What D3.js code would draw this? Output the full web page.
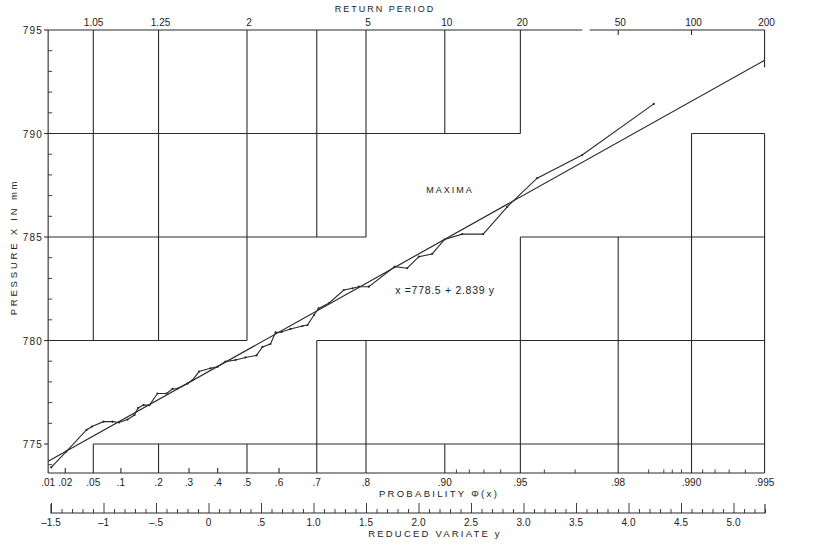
<!DOCTYPE html>
<html><head><meta charset="utf-8">
<script src="https://cdn.jsdelivr.net/npm/d3@7"></script>
<style>
html,body{margin:0;padding:0;background:#fff;}
svg text{font-family:"Liberation Sans","DejaVu Sans",sans-serif;fill:#222;}
</style></head>
<body><svg id="c" width="819" height="551"></svg>
<script>
// ---------- data ----------
const pressureTicks = [775, 780, 785, 790, 795];
const pressureMinor = [774,776,777,778,779,781,782,783,784,786,787,788,789,791,792,793,794];
const probValues = [0.01,0.02,0.05,0.1,0.2,0.3,0.4,0.5,0.6,0.7,0.8,0.90,0.95,0.98,0.990,0.995];
const probLabels = [".01",".02",".05",".1",".2",".3",".4",".5",".6",".7",".8",".90",".95",".98",".990",".995"];
const probMinor = [0.91,0.92,0.93,0.94,0.96,0.97,0.985,0.987,0.988,0.989,0.991,0.992,0.993,0.994];
const returnPeriods = [1.05, 1.25, 2, 5, 10, 20, 50, 100, 200];
const returnLabels = ["1.05","1.25","2","5","10","20","50","100","200"];
const variateTicks = [-1.5,-1,-0.5,0,0.5,1.0,1.5,2.0,2.5,3.0,3.5,4.0,4.5,5.0];
const variateLabels = ["\u20131.5","\u20131","\u2013.5","0",".5","1.0","1.5","2.0","2.5","3.0","3.5","4.0","4.5","5.0"];
const fitIntercept = 778.5, fitSlope = 2.839;
// observed maxima: reduced variate y and pressure x (mm)
const obsY = [-1.498,-1.355,-1.162,-1.110,-1.000,-0.914,-0.852,-0.771,-0.705,-0.671,-0.619,-0.562,-0.486,-0.400,-0.343,-0.295,-0.200,-0.152,-0.090,0.019,0.086,0.162,0.257,0.352,0.457,0.514,0.590,0.638,0.695,0.781,0.895,0.943,1.005,1.048,1.146,1.289,1.371,1.431,1.527,1.774,1.892,2.003,2.130,2.248,2.416,2.616,2.845,3.130,3.559,4.241];
const obsX = [773.87,774.63,775.68,775.84,776.08,776.08,776.04,776.18,776.40,776.74,776.88,776.88,777.44,777.44,777.66,777.68,777.92,778.09,778.50,778.66,778.73,778.98,779.06,779.18,779.28,779.69,779.83,780.39,780.41,780.56,780.70,780.75,781.23,781.55,781.80,782.44,782.52,782.60,782.60,783.57,783.49,784.05,784.18,784.88,785.14,785.14,786.46,787.84,788.96,791.43];
// frame extents
const pMin = 0.01, pMax = 0.995, xBottom = 773.6, xTop = 795;
// grid blocks (probability, pressure from, pressure to)
const vGrid = [[0.05,780,795],[0.05,xBottom,775],[0.2,780,795],[0.2,xBottom,775],[0.5,780,795],[0.5,xBottom,775],
  [0.7,785,795],[0.7,xBottom,780],[0.8,785,795],[0.8,xBottom,780],[0.9,790,795],[0.9,xBottom,775],
  [0.95,790,795],[0.95,xBottom,785],[0.98,xBottom,785],[0.99,xBottom,790],[0.995,xBottom,790],[0.995,793.2,795]];
const hGrid = [[790,0.01,0.95],[790,0.99,0.995],[785,0.01,0.8],[785,0.95,0.995],[780,0.01,0.5],[780,0.7,0.995],[775,0.05,0.995]];
const topGap = [3.56, 3.63]; // break in the top return-period line (reduced variate)

// ---------- drawing ----------
const svg = d3.select("#c");
const rv = p => -Math.log(-Math.log(p));
const xs = d3.scaleLinear().domain([-1.5, 5.0]).range([51, 733.5]);
const ys = d3.scaleLinear().domain([775, 795]).range([444, 30]);
const px = p => xs(rv(p));
const ink = "#2b2b2b";
const g = svg.append("g").attr("stroke", ink).attr("stroke-width", 1.1).attr("fill", "none");

// left axis
g.append("line").attr("x1", px(pMin)).attr("x2", px(pMin)).attr("y1", ys(xTop)).attr("y2", ys(xBottom));
// bottom axis
g.append("line").attr("x1", px(pMin)).attr("x2", px(pMax)).attr("y1", ys(xBottom)).attr("y2", ys(xBottom));
// top axis (with break)
g.append("line").attr("x1", px(pMin)).attr("x2", xs(topGap[0])).attr("y1", ys(xTop)).attr("y2", ys(xTop));
g.append("line").attr("x1", xs(topGap[1])).attr("x2", px(pMax)).attr("y1", ys(xTop)).attr("y2", ys(xTop));

vGrid.forEach(d => g.append("line").attr("x1", px(d[0])).attr("x2", px(d[0])).attr("y1", ys(d[1])).attr("y2", ys(d[2])));
hGrid.forEach(d => g.append("line").attr("x1", px(d[1])).attr("x2", px(d[2])).attr("y1", ys(d[0])).attr("y2", ys(d[0])));

// left ticks
pressureTicks.forEach(v => g.append("line").attr("x1", px(pMin) - 4).attr("x2", px(pMin)).attr("y1", ys(v)).attr("y2", ys(v)));
pressureMinor.forEach(v => g.append("line").attr("x1", px(pMin)).attr("x2", px(pMin) + 4).attr("y1", ys(v)).attr("y2", ys(v)).attr("stroke-width", 0.9));
svg.selectAll("text.pl").data(pressureTicks).enter().append("text")
  .attr("x", px(pMin) - 5).attr("y", d => ys(d) + 4).attr("text-anchor", "end")
  .attr("font-size", 10).attr("letter-spacing", 1.2).text(d => d);

// bottom probability ticks
const gridProbs = new Set(vGrid.map(d => d[0]));
probValues.filter(p => !gridProbs.has(p) && p !== pMin).forEach(p =>
  g.append("line").attr("x1", px(p)).attr("x2", px(p)).attr("y1", ys(xBottom)).attr("y2", ys(xBottom) - 5));
probMinor.forEach(p => g.append("line").attr("x1", px(p)).attr("x2", px(p)).attr("y1", ys(xBottom)).attr("y2", ys(xBottom) - 3.5).attr("stroke-width", 0.9));
svg.selectAll("text.pb").data(probValues).enter().append("text")
  .attr("x", d => px(d)).attr("y", ys(xBottom) + 13).attr("text-anchor", "middle")
  .attr("font-size", 10).text((d, i) => probLabels[i]);
svg.append("text").attr("x", 439).attr("y", 497).attr("text-anchor", "middle")
  .attr("font-size", 9.5).attr("letter-spacing", 2.3).text("PROBABILITY  \u03A6(x)");

// top return period labels
const tpx = T => px(1 - 1 / T);
[50, 100].forEach(T => g.append("line").attr("x1", tpx(T)).attr("x2", tpx(T)).attr("y1", ys(xTop)).attr("y2", ys(xTop) + 5));
svg.selectAll("text.rt").data(returnPeriods).enter().append("text")
  .attr("x", d => tpx(d) + 2).attr("y", ys(xTop) - 4).attr("text-anchor", "middle")
  .attr("font-size", 10).text((d, i) => returnLabels[i]);
svg.append("text").attr("x", 385).attr("y", 12).attr("text-anchor", "middle")
  .attr("font-size", 9).attr("letter-spacing", 2).text("RETURN PERIOD");

// reduced variate axis
const ry = 513;
const rvAxis = d3.axisTop(xs).tickValues(d3.range(-15, 54).map(i => i / 10)).tickSize(4).tickFormat("");
const ra = svg.append("g").attr("transform", `translate(0,${ry})`).call(rvAxis);
ra.select(".domain").attr("d", `M${xs(-1.5)},-9V0H${xs(5.3)}V-9`).attr("stroke", ink).attr("stroke-width", 1.1);
ra.selectAll(".tick line").attr("stroke", ink).attr("stroke-width", 0.9)
  .attr("y2", d => Math.abs(d * 2 - Math.round(d * 2)) < 1e-6 ? -10 : -4);
svg.selectAll("text.rv").data(variateTicks).enter().append("text")
  .attr("x", d => xs(d)).attr("y", ry + 13).attr("text-anchor", "middle")
  .attr("font-size", 10).text((d, i) => variateLabels[i]);
svg.append("text").attr("x", 435).attr("y", 537).attr("text-anchor", "middle")
  .attr("font-size", 9.5).attr("letter-spacing", 2.2).text("REDUCED VARIATE   y");

// y-axis title
svg.append("text").attr("transform", `translate(17,247) rotate(-90)`).attr("text-anchor", "middle")
  .attr("font-size", 9.5).attr("letter-spacing", 2.8).text("PRESSURE    X   IN   mm");

// fitted line
const fitDomain = [rv(pMin), rv(pMax)];
svg.append("path").datum(fitDomain)
  .attr("d", d3.line().x(d => xs(d)).y(d => ys(fitIntercept + fitSlope * d)))
  .attr("fill", "none").attr("stroke", ink).attr("stroke-width", 1.2);

// observed polyline
const obs = obsY.map((y, i) => [y, obsX[i]]);
svg.append("path").datum(obs)
  .attr("d", d3.line().x(d => xs(d[0])).y(d => ys(d[1])))
  .attr("fill", "none").attr("stroke", ink).attr("stroke-width", 1.1);
svg.selectAll("circle.o").data(obs).enter().append("circle")
  .attr("cx", d => xs(d[0])).attr("cy", d => ys(d[1])).attr("r", 1.1).attr("fill", ink);

// annotations
svg.append("text").attr("x", 450).attr("y", 193).attr("text-anchor", "middle")
  .attr("font-size", 9).attr("letter-spacing", 2).text("MAXIMA");
svg.append("text").attr("x", 445).attr("y", 294).attr("text-anchor", "middle")
  .attr("font-size", 10.5).attr("letter-spacing", 0.7).text("x =778.5 + 2.839  y");
</script></body></html>
